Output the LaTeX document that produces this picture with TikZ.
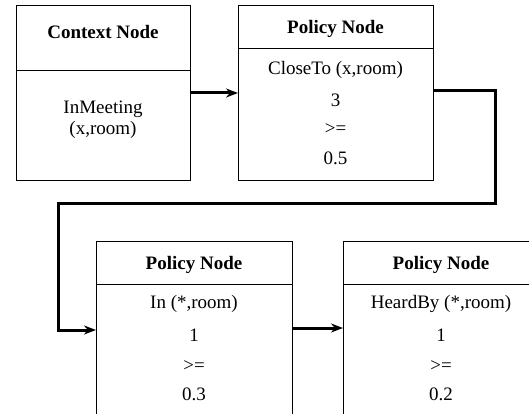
\documentclass[tikz,border=0pt]{standalone}
\usepackage{fontspec}
\setmainfont{Liberation Serif}
\usetikzlibrary{arrows.meta}
\begin{document}
\begin{tikzpicture}[x=1pt,y=-1pt,
  box/.style={draw, line width=1pt, rectangle, inner sep=0pt, anchor=north west},
  divider/.style={line width=1pt},
  heading/.style={font=\fontsize{19}{22}\selectfont\bfseries},
  entry/.style={font=\fontsize{19}{21}\selectfont, align=center, inner sep=0pt},
  link/.style={line width=3pt, line join=miter, -{Stealth[length=12pt,width=9pt]}}]
\useasboundingbox (0,0) rectangle (529,414);
\clip (0,0) rectangle (529,414);

% context node
\node[box, minimum width=174pt, minimum height=175pt] (ctx) at (16,5) {};
\draw[divider] (ctx.west |- 0,71) -- (ctx.east |- 0,71);
\node[heading] (ctxHead) at (103,32) {Context Node};
\node[entry] (ctxBody) at (103,119.5) {InMeeting\\(x,room)};

% first policy node
\node[box, minimum width=195pt, minimum height=175pt] (polA) at (238,5) {};
\draw[divider] (polA.west |- 0,49) -- (polA.east |- 0,49);
\node[heading] (polAHead) at (335.5,29) {Policy Node};
\node[entry] (polA1) at (335.5,70) {CloseTo (x,room)};
\node[entry] (polA2) at (335.5,100) {3};
\node[entry] (polA3) at (335.5,129) {>=};
\node[entry] (polA4) at (335.5,158) {0.5};

% second policy node
\node[box, minimum width=196pt, minimum height=200pt] (polB) at (96,241) {};
\draw[divider] (polB.west |- 0,284) -- (polB.east |- 0,284);
\node[heading] (polBHead) at (194,265) {Policy Node};
\node[entry] (polB1) at (194,304) {In (*,room)};
\node[entry] (polB2) at (194,335) {1};
\node[entry] (polB3) at (194,366) {>=};
\node[entry] (polB4) at (194,394) {0.3};

% third policy node
\node[box, minimum width=196pt, minimum height=200pt] (polC) at (343,241) {};
\draw[divider] (polC.west |- 0,284) -- (polC.east |- 0,284);
\node[heading] (polCHead) at (441,265) {Policy Node};
\node[entry] (polC1) at (441,304) {HeardBy (*,room)};
\node[entry] (polC2) at (441,335) {1};
\node[entry] (polC3) at (441,366) {>=};
\node[entry] (polC4) at (441,394) {0.2};

% connectors
\draw[link] (ctx.east |- 0,93) -- (polA.west |- 0,93);
\draw[link] (polA.east |- 0,91) -- (495,91) -- (495,203) -- (58,203) -- (58,330) -- (polB.west |- 0,330);
\draw[link] (polB.east |- 0,328) -- (polC.west |- 0,328);
\end{tikzpicture}
\end{document}
